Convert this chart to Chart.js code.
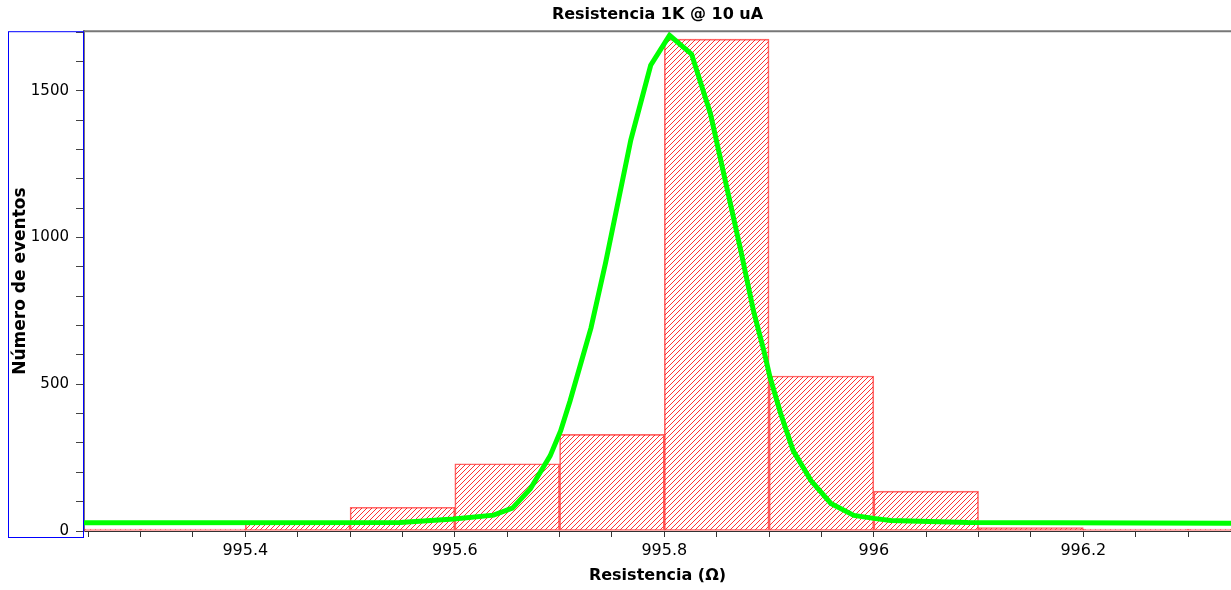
<!DOCTYPE html>
<html>
<head>
<meta charset="utf-8">
<title>Resistencia 1K @ 10 uA</title>
<script src="https://cdn.jsdelivr.net/npm/chart.js@4.4.1/dist/chart.umd.min.js"></script>
<style>
  body { margin: 0; background: #fff; }
  #wrap { width: 1231px; height: 590px; }
</style>
</head>
<body>
<div id="wrap"><canvas id="histo" width="1231" height="590"></canvas></div>
<script>
// histogram bins (centre of each 0.1 ohm bin) and their counts
const binCenters = [995.25, 995.35, 995.45, 995.55, 995.65, 995.75, 995.85, 995.95, 996.05, 996.15, 996.25, 996.35];
const binCounts  = [0, 0, 25, 81, 229, 329, 1676, 528, 136, 12, 0, 0];

// gaussian fit, points
const fitX = [995.246, 995.548, 995.599, 995.637, 995.655, 995.672, 995.691, 995.701, 995.710, 995.730,
              995.744, 995.768, 995.787, 995.805, 995.826, 995.844, 995.873, 995.885, 995.895, 995.901,
              995.911, 995.923, 995.940, 995.959, 995.981, 996.000, 996.016, 996.090, 996.341];
const fitY = [28, 29, 41, 54, 78, 143, 256, 341, 443, 692,
              915, 1332, 1587, 1689, 1625, 1423, 956, 752, 615, 523,
              401, 274, 172, 94, 53, 43, 36, 29, 26];

// labelled ticks
const xTickLabels = [995.4, 995.6, 995.8, 996, 996.2];
const yTickLabels = [0, 500, 1000, 1500];

const X_MIN = 995.246, X_MAX = 996.341;
const Y_MIN = 0, Y_MAX = 1703;

/* red diagonal hatch used to fill the bars */
function makeHatch() {
    var c = document.createElement('canvas');
    c.width = 5;
    c.height = 5;
    var g = c.getContext('2d');
    g.strokeStyle = 'rgba(255,0,0,0.8)';
    g.lineWidth = 1;
    g.beginPath();
    g.moveTo(0, 5); g.lineTo(5, 0);
    g.moveTo(-1, 1); g.lineTo(1, -1);
    g.moveTo(4, 6); g.lineTo(6, 4);
    g.stroke();
    return g.createPattern(c, 'repeat');
}

/* plot frame on top + blue selection box around the y axis */
const framePlugin = {
    id: 'frame',
    afterDraw(chart) {
        var ctx = chart.ctx;
        var a = chart.chartArea;
        ctx.save();
        ctx.strokeStyle = '#777';
        ctx.lineWidth = 2;
        ctx.beginPath();
        ctx.moveTo(a.left, a.top);
        ctx.lineTo(a.right, a.top);
        ctx.stroke();
        ctx.strokeStyle = '#0000ff';
        ctx.lineWidth = 1;
        ctx.strokeRect(8.5, a.top + 0.5, a.left - 9, 537 - a.top);
        ctx.restore();
    }
};

const histData = binCenters.map((x, i) => ({ x: x, y: binCounts[i] }));
const fitData = fitX.map((x, i) => ({ x: x, y: fitY[i] }));

function hasLabel(list, v) {
    return list.find(t => Math.abs(t - v) < 1e-6);
}

const ctx = document.getElementById('histo').getContext('2d');
const chart = new Chart(ctx, {
    data: {
        datasets: [
            {
                type: 'line',
                label: 'Ajuste',
                data: fitData,
                borderColor: '#00ff00',
                borderWidth: 5,
                pointRadius: 0,
                tension: 0,
                fill: false,
                order: 0
            },
            {
                type: 'bar',
                label: 'Eventos',
                data: histData,
                backgroundColor: makeHatch(),
                borderColor: 'rgba(255,0,0,0.6)',
                borderWidth: 1,
                borderSkipped: false,
                barThickness: 'flex',
                barPercentage: 1,
                categoryPercentage: 1,
                minBarLength: 2,
                order: 1
            }
        ]
    },
    options: {
        responsive: false,
        animation: false,
        devicePixelRatio: 1,
        layout: { padding: 0 },
        plugins: {
            legend: { display: false },
            tooltip: { enabled: false },
            title: {
                display: true,
                fullSize: false,
                text: 'Resistencia 1K @ 10 uA',
                color: '#000',
                font: { family: 'DejaVu Sans', size: 16, weight: 'bold' },
                padding: { top: 5, bottom: 7 }
            }
        },
        scales: {
            x: {
                type: 'linear',
                offset: false,
                min: X_MIN,
                max: X_MAX,
                afterFit(scale) { scale.height = 59; },
                afterBuildTicks(scale) {
                    var t = [];
                    for (var k = Math.ceil(X_MIN / 0.05); k * 0.05 <= X_MAX; k++) {
                        t.push({ value: Math.round(k * 0.05 * 1000) / 1000 });
                    }
                    scale.ticks = t;
                },
                ticks: {
                    autoSkip: false,
                    maxRotation: 0,
                    padding: 4,
                    color: '#000',
                    font: { family: 'DejaVu Sans', size: 16 },
                    callback: function (value) {
                        var lab = hasLabel(xTickLabels, value);
                        return lab !== undefined ? String(lab) : '';
                    }
                },
                grid: {
                    offset: false,
                    drawOnChartArea: false,
                    tickLength: 6,
                    tickColor: '#333'
                },
                border: { color: '#333', width: 1 },
                title: {
                    display: true,
                    text: 'Resistencia (Ω)',
                    color: '#000',
                    font: { family: 'DejaVu Sans', size: 16, weight: 'bold' },
                    padding: { top: 0, bottom: 5 }
                }
            },
            y: {
                type: 'linear',
                min: Y_MIN,
                max: Y_MAX,
                afterFit(scale) { scale.width = 84; },
                afterBuildTicks(scale) {
                    var t = [];
                    for (var v = 0; v <= Y_MAX; v += 100) t.push({ value: v });
                    scale.ticks = t;
                },
                ticks: {
                    autoSkip: false,
                    padding: 7,
                    color: '#000',
                    font: { family: 'DejaVu Sans', size: 15 },
                    callback: function (value) {
                        var lab = hasLabel(yTickLabels, value);
                        return lab !== undefined ? String(lab) : '';
                    }
                },
                grid: {
                    drawOnChartArea: false,
                    tickLength: 8,
                    tickColor: '#444'
                },
                border: { color: '#777', width: 2 },
                title: {
                    display: true,
                    text: 'Número de eventos',
                    color: '#000',
                    font: { family: 'DejaVu Sans', size: 17, weight: 'bold' },
                    padding: { top: 10, bottom: 0 }
                }
            }
        }
    },
    plugins: [framePlugin]
});
</script>
</body>
</html>
